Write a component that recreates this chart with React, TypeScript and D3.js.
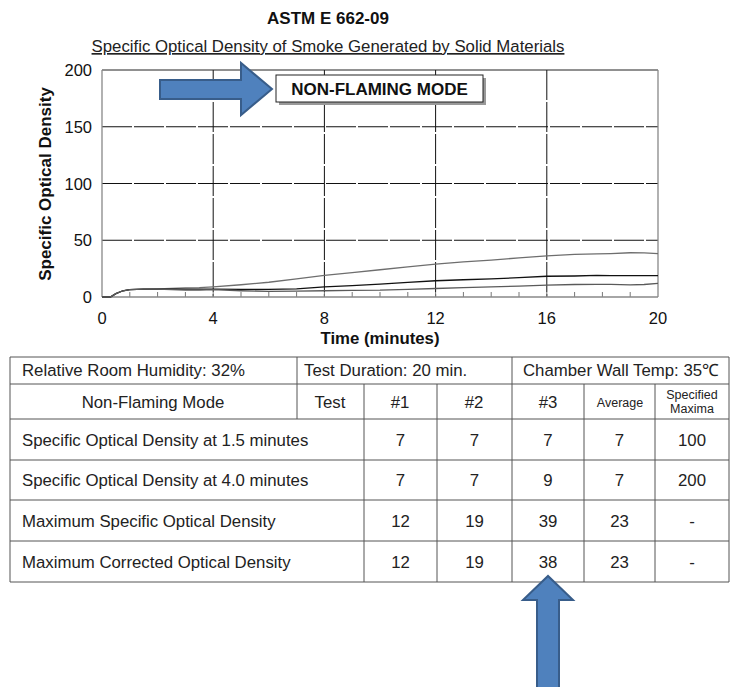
import * as d3 from 'd3';
import React from 'react';

// time in minutes, and the three test runs
const minutes = [0, 0.3, 0.5, 0.75, 1, 1.5, 2, 2.5, 3, 3.5, 4, 5, 6, 7, 8, 9, 10, 11, 12, 13, 14, 15, 16, 17, 17.8, 18.3, 19, 19.5, 20];
const test1 = [0, 0, 3, 5.5, 6.5, 7, 7, 6.5, 6, 6, 6.5, 5.5, 5, 5.2, 5.5, 5.8, 6, 6.8, 7.5, 8.2, 9, 9.5, 10.5, 11, 11.2, 11.2, 10.6, 11, 12];
const test2 = [0, 0, 3, 5.5, 6.5, 7, 7, 7, 7, 7, 7, 6.8, 6.8, 7.2, 8.9, 10, 11.3, 12.8, 14.3, 15.2, 16, 17, 18.3, 18.5, 19, 18.8, 18.8, 18.8, 18.8];
const test3 = [0, 0, 3, 5.5, 6.5, 7, 7.2, 7.5, 8, 8.3, 9, 10.8, 13, 16, 19, 21.5, 24, 26.5, 28.9, 31, 32.5, 34.5, 36.3, 37.5, 38, 38.3, 39, 38.8, 38.2];

const xTicks = [0, 4, 8, 12, 16, 20];
const yTicks = [0, 50, 100, 150, 200];

// table contents
const rowLabels = [
  'Specific Optical Density at 1.5 minutes',
  'Specific Optical Density at 4.0 minutes',
  'Maximum Specific Optical Density',
  'Maximum Corrected Optical Density',
];
const col1 = ['7', '7', '12', '12'];
const col2 = ['7', '7', '19', '19'];
const col3 = ['7', '9', '39', '38'];
const colAvg = ['7', '7', '23', '23'];
const colMax = ['100', '200', '-', '-'];

const FONT = "'Liberation Sans', Arial, sans-serif";

export default function App() {
  const x = d3.scaleLinear().domain([0, 20]).range([102, 658]);
  const y = d3.scaleLinear().domain([0, 200]).range([297, 70]);

  const line = d3.line<number>()
    .x((d, i) => x(minutes[i]))
    .y(d => y(d));

  const series = [
    { v: test3, c: '#6e6e6e' },
    { v: test2, c: '#111' },
    { v: test1, c: '#5a5a5a' },
  ];

  // table geometry
  const tl = 10, tr = 729;
  const rowY = [357, 384, 419, 460, 500, 541, 582];
  const colX = [364, 437, 512, 584, 655];
  const valCols = [col1, col2, col3, colAvg, colMax];
  const tStroke = '#555';

  const blue = '#4f81bd';
  const blueEdge = '#385d8a';

  return (
    <svg width={731} height={687} style={{ position: 'absolute', left: 0, top: 0 }} fontFamily={FONT}>
      <rect width={731} height={687} fill="#fff" />
      <text x={328} y={24} textAnchor="middle" fontSize={17} fontWeight="bold" fill="#111">ASTM E 662-09</text>
      <text x={328} y={52} textAnchor="middle" fontSize={16.8} fill="#222" textDecoration="underline">
        Specific Optical Density of Smoke Generated by Solid Materials
      </text>

      {/* grid */}
      {yTicks.slice(1, -1).map(t => (
        <line key={'gy' + t} x1={x(0)} x2={x(20)} y1={y(t)} y2={y(t)} stroke="#111" strokeWidth={1} strokeDasharray="30,2" />
      ))}
      {xTicks.slice(1, -1).map(t => (
        <line key={'gx' + t} x1={x(t)} x2={x(t)} y1={y(200)} y2={y(0)} stroke="#111" strokeWidth={1} strokeDasharray="30,2" />
      ))}
      {/* minor ticks */}
      {d3.range(1, 20).map(t => (
        <line key={'mt' + t} x1={x(t)} x2={x(t)} y1={y(0)} y2={y(0) - 5} stroke="#777" strokeWidth={1} />
      ))}
      {/* frame */}
      <line x1={x(0)} x2={x(20)} y1={y(200)} y2={y(200)} stroke="#222" />
      <line x1={x(0)} x2={x(0)} y1={y(200)} y2={y(0)} stroke="#888" strokeWidth={1.3} />
      <line x1={x(20)} x2={x(20)} y1={y(200)} y2={y(0)} stroke="#888" strokeWidth={1.3} />
      <line x1={x(0)} x2={x(20)} y1={y(0)} y2={y(0)} stroke="#888" strokeWidth={1.5} />

      {series.map((s, i) => (
        <path key={i} d={line(s.v) || ''} fill="none" stroke={s.c} strokeWidth={1.3} />
      ))}

      {yTicks.map(t => (
        <text key={'yl' + t} x={92} y={y(t) + 6} textAnchor="end" fontSize={16.5} fill="#111">{t}</text>
      ))}
      {xTicks.map(t => (
        <text key={'xl' + t} x={x(t)} y={324} textAnchor="middle" fontSize={16.5} fill="#111">{t}</text>
      ))}
      <text x={380} y={344} textAnchor="middle" fontSize={16.8} fontWeight="bold" fill="#111">Time (minutes)</text>
      <text transform="translate(51,184) rotate(-90)" textAnchor="middle" fontSize={17} fontWeight="bold" fill="#111">Specific Optical Density</text>

      {/* mode label */}
      <rect x={279} y={78} width={207} height={27} fill="#999" />
      <rect x={276} y={75} width={207} height={27} fill="#fff" stroke="#222" strokeWidth={1} />
      <text x={379.5} y={95} textAnchor="middle" fontSize={17} fontWeight="bold" fill="#111">NON-FLAMING MODE</text>
      <path d="M160,80 L241,80 L241,63 L272,89 L241,115 L241,99 L160,99 Z" fill={blue} stroke={blueEdge} strokeWidth={2} strokeLinejoin="miter" />

      {/* table */}
      {rowY.map((ry, i) => (
        <line key={'tr' + i} x1={tl} x2={tr} y1={ry} y2={ry} stroke={tStroke} strokeWidth={1} />
      ))}
      <line x1={tl} x2={tl} y1={rowY[0]} y2={rowY[6]} stroke={tStroke} />
      <line x1={tr} x2={tr} y1={rowY[0]} y2={rowY[6]} stroke={tStroke} />
      <line x1={297} x2={297} y1={rowY[0]} y2={rowY[2]} stroke={tStroke} />
      <line x1={colX[2]} x2={colX[2]} y1={rowY[0]} y2={rowY[6]} stroke={tStroke} />
      {[0, 1, 3, 4].map(k => (
        <line key={'tc' + k} x1={colX[k]} x2={colX[k]} y1={rowY[1]} y2={rowY[6]} stroke={tStroke} />
      ))}
      <g fontSize={16.8} fill="#222">
        <text x={22} y={376}>Relative Room Humidity: 32%</text>
        <text x={304} y={376}>Test Duration: 20 min.</text>
        <text x={523} y={376}>Chamber Wall Temp: 35℃</text>
        <text x={153} y={408} textAnchor="middle">Non-Flaming Mode</text>
        <text x={330} y={408} textAnchor="middle">Test</text>
        <text x={400} y={408} textAnchor="middle">#1</text>
        <text x={474} y={408} textAnchor="middle">#2</text>
        <text x={548} y={408} textAnchor="middle">#3</text>
        <text x={620} y={407} textAnchor="middle" fontSize={12.5}>Average</text>
        <text x={692} y={399} textAnchor="middle" fontSize={12.5}>Specified</text>
        <text x={692} y={413} textAnchor="middle" fontSize={12.5}>Maxima</text>
        {rowLabels.map((l, r) => (
          <text key={'rl' + r} x={22} y={(rowY[r + 2] + rowY[r + 3]) / 2 + 6}>{l}</text>
        ))}
        {valCols.map((col, c) => col.map((v, r) => (
          <text key={'v' + c + r} x={(colX[c] + (c < 4 ? colX[c + 1] : tr)) / 2}
            y={(rowY[r + 2] + rowY[r + 3]) / 2 + 6} textAnchor="middle">{v}</text>
        )))}
      </g>

      {/* pointer arrow */}
      <path d="M537,687 L537,600 L523,600 L548,576 L573,600 L559,600 L559,687" fill={blue} stroke={blueEdge} strokeWidth={2} />
    </svg>
  );
}
